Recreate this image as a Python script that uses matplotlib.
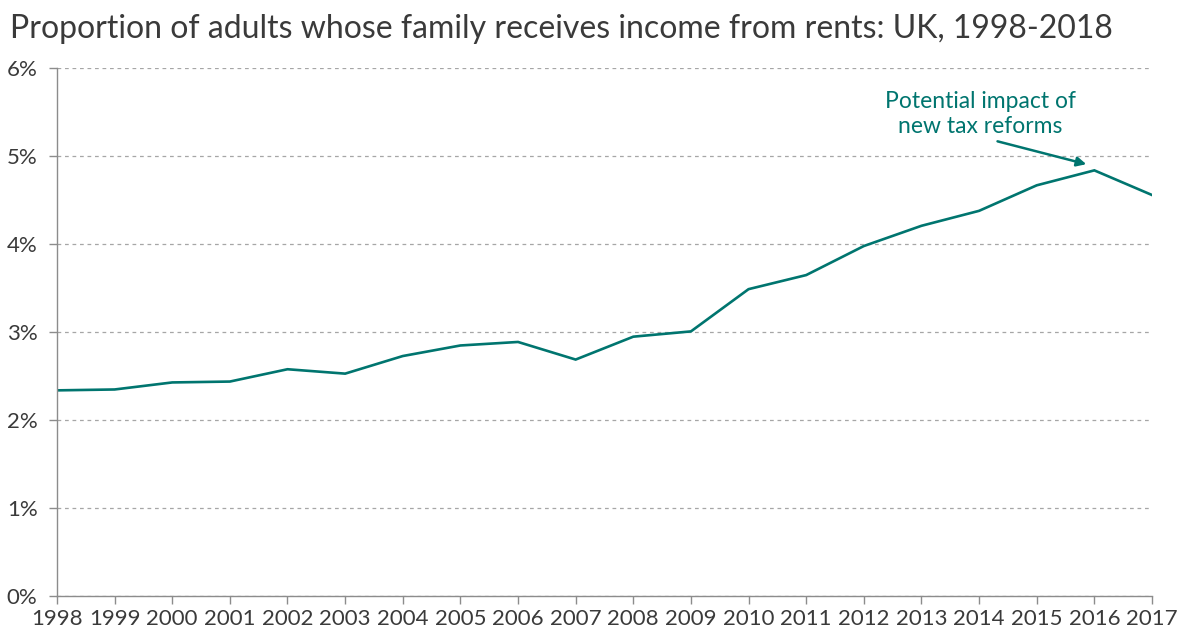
import matplotlib
matplotlib.use('Agg')
import matplotlib.pyplot as plt
import numpy as np

# Данные
years = list(range(1998, 2018))
share = [2.34, 2.35, 2.43, 2.44, 2.58, 2.53, 2.73, 2.85, 2.89, 2.69,
         2.95, 3.01, 3.49, 3.65, 3.98, 4.21, 4.38, 4.67, 4.84, 4.56]
y_ticks = [0, 1, 2, 3, 4, 5, 6]
title = 'Proportion of adults whose family receives income from rents: UK, 1998-2018'
note = 'Potential impact of\nnew tax reforms'

teal = '#00756F'
grey_txt = '#3A3A3A'

plt.rcParams['font.family'] = ['Lato', 'DejaVu Sans']

fig = plt.figure(figsize=(11.82, 6.34), dpi=100)
ax = fig.add_axes([0.0482, 0.0595, 0.9264, 0.8328])

ax.plot(years, share, color=teal, lw=1.9, solid_joinstyle='miter')

ax.set_xlim(years[0], years[-1])
ax.set_ylim(y_ticks[0], y_ticks[-1])
ax.set_xticks(years)
ax.set_xticklabels([str(y) for y in years])
ax.set_yticks(y_ticks)
ax.set_yticklabels([f'{v}%' for v in y_ticks])

ax.grid(axis='y', color='#A6A6A6', linestyle=(0, (3, 3)), lw=0.9)
ax.set_axisbelow(True)
for s in ['top', 'right']:
    ax.spines[s].set_visible(False)
for s in ['left', 'bottom']:
    ax.spines[s].set_color('#8C8C8C')
    ax.spines[s].set_linewidth(1.0)
ax.tick_params(axis='both', colors='#8C8C8C', length=6, width=1.0,
               labelcolor=grey_txt, labelsize=16)
ax.tick_params(axis='y', pad=8)
ax.tick_params(axis='x', pad=3)

# Аннотация у пика
peak = int(np.argmax(share))
ax.text(2014.02, 5.48, note, color=teal, fontsize=16.5, ha='center', va='center',
        linespacing=1.2)
ax.annotate('', xy=(years[peak] - 0.14, share[peak] + 0.07),
            xytext=(2014.32, 5.17),
            arrowprops=dict(arrowstyle='-|>', color=teal, lw=1.8,
                            mutation_scale=14, shrinkA=0, shrinkB=0))

fig.text(0.0085, 0.955, title, fontsize=23,
         color=grey_txt, ha='left', va='center')

fig.savefig('out.png', dpi=100)
